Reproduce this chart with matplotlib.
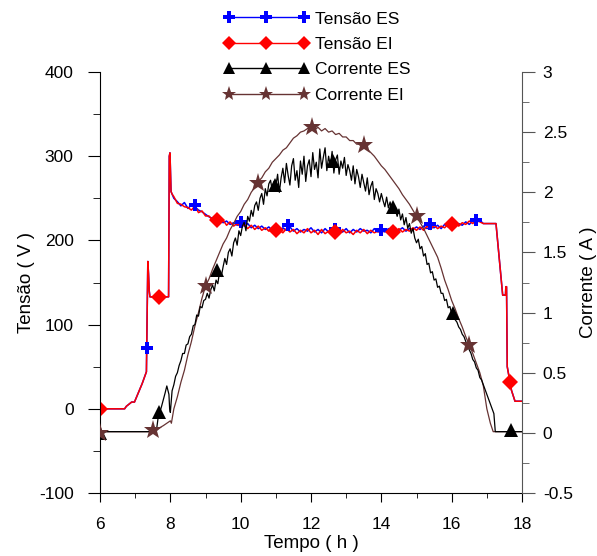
import numpy as np
import matplotlib
matplotlib.use("Agg")
import matplotlib.pyplot as plt
from matplotlib.lines import Line2D

plt.rcParams['font.family'] = ['Liberation Sans', 'DejaVu Sans']
plt.rcParams['axes.unicode_minus'] = False
FS = 12.5

# --- voltage (left axis), hours / volts ---
t_v_start = [6.0, 6.7, 6.75, 6.9, 6.98, 7.05, 7.2, 7.32, 7.36, 7.38, 7.40, 7.42,
             7.95, 7.97, 7.99, 8.02, 8.05]
v_start = [0, 0, 3, 8, 8, 15, 30, 44, 175, 160, 140, 133,
           133, 300, 304, 258, 255]
t_v_mid = np.round(np.arange(8.1, 16.85, 0.1), 2)
v_es_mid = [250, 246, 241, 245, 238, 242, 240, 236, 234, 231,
            228, 226, 223, 225, 221, 223, 219, 221, 218, 220,
            217, 220, 215, 218, 214, 217, 213, 216, 212, 214,
            211, 215, 212, 216, 211, 214, 210, 213, 211, 215,
            210, 213, 209, 214, 210, 212, 208, 213, 210, 214,
            209, 213, 210, 214, 211, 212, 209, 214, 210, 213,
            210, 214, 211, 213, 212, 215, 211, 214, 213, 216,
            213, 217, 214, 216, 215, 218, 214, 219, 216, 218,
            217, 220, 218, 222, 219, 223, 221, 224]
v_ei_mid = [252, 244, 243, 240, 239, 236, 241, 233, 235, 229,
            229, 224, 225, 221, 224, 218, 222, 217, 220, 216,
            219, 214, 218, 213, 217, 212, 215, 211, 214, 210,
            213, 209, 214, 210, 213, 208, 212, 209, 214, 209,
            212, 207, 213, 208, 211, 206, 212, 208, 213, 209,
            211, 207, 212, 209, 213, 208, 212, 209, 211, 208,
            213, 209, 212, 210, 214, 210, 213, 211, 215, 212,
            216, 212, 217, 213, 218, 214, 217, 215, 219, 216,
            220, 217, 221, 219, 223, 220, 224, 222]
t_v_end = [16.9, 17.0, 17.26, 17.45, 17.53, 17.54, 17.56, 17.58, 17.61, 17.7, 17.8, 18.0]
v_end = [220, 220, 220, 135, 135, 145, 145, 50, 43, 22, 9, 9]

# markers on the voltage curves
mk_es_t = [6.0, 7.35, 8.7, 10.0, 11.35, 12.68, 14.0, 15.38, 16.7]
mk_es_v = [0, 72, 242, 222, 218, 213, 212, 219, 224]
mk_ei_t = [6.0, 7.68, 9.32, 11.0, 12.68, 14.34, 16.0, 17.67]
mk_ei_v = [0, 133, 224, 212, 210, 210, 219, 32]

# --- current (right axis), hours / amperes ---
t_ies_start = [6.0, 7.6, 7.65, 7.75, 7.85, 7.9, 7.96, 7.98]
i_es_start = [0.01, 0.01, 0.12, 0.22, 0.33, 0.39, 0.32, 0.2]
t_ies_mid = np.round(np.arange(8.0, 17.19, 0.05), 2)
i_es_mid = [0.17, 0.35, 0.40, 0.47, 0.50, 0.56, 0.60, 0.66, 0.66, 0.73,
            0.74, 0.80, 0.82, 0.89, 0.90, 0.98, 0.97, 1.05, 1.04, 1.10,
            1.11, 1.16, 1.12, 1.19, 1.23, 1.18, 1.27, 1.24, 1.34, 1.30,
            1.38, 1.45, 1.40, 1.50, 1.53, 1.47, 1.58, 1.62, 1.56, 1.68,
            1.64, 1.72, 1.75, 1.68, 1.80, 1.76, 1.85, 1.80, 1.89, 1.92,
            1.85, 1.95, 1.99, 1.90, 2.03, 1.97, 2.07, 2.10, 2.01, 2.09,
            2.05, 2.15, 2.00, 2.12, 2.20, 2.08, 2.24, 2.14, 2.06, 2.22,
            2.28, 2.10, 2.18, 2.04, 2.26, 2.15, 2.30, 2.09, 2.22, 2.27,
            2.13, 2.33, 2.19, 2.25, 2.12, 2.36, 2.20, 2.29, 2.37, 2.18,
            2.30, 2.22, 2.34, 2.16, 2.27, 2.31, 2.15, 2.26, 2.20, 2.29,
            2.14, 2.23, 2.18, 2.10, 2.22, 2.07, 2.19, 2.13, 2.04, 2.15,
            2.08, 2.01, 2.12, 1.98, 2.05, 2.09, 1.94, 2.03, 1.99, 1.92,
            1.99, 1.93, 1.88, 1.96, 1.87, 1.92, 1.83, 1.89, 1.85, 1.80,
            1.86, 1.77, 1.82, 1.73, 1.79, 1.70, 1.74, 1.66, 1.70, 1.62,
            1.58, 1.61, 1.53, 1.55, 1.47, 1.49, 1.40, 1.41, 1.33, 1.34,
            1.27, 1.28, 1.21, 1.22, 1.16, 1.16, 1.10, 1.11, 1.04, 1.05,
            0.99, 0.98, 0.94, 0.92, 0.88, 0.86, 0.82, 0.80, 0.76, 0.73,
            0.69, 0.66, 0.61, 0.59, 0.54, 0.52, 0.46, 0.44, 0.40, 0.36,
            0.32, 0.28, 0.24, 0.20]
t_ies_end = [17.2, 17.24, 18.0]
i_es_end = [0.16, 0.01, 0.01]

t_iei = [6.0, 7.5, 7.8, 8.0, 8.03, 8.1, 8.2, 8.3, 8.4, 8.5, 8.6, 8.7, 8.8, 8.9,
         9.0, 9.1, 9.2, 9.3, 9.4, 9.5, 9.6, 9.7, 9.8, 9.9, 10.0, 10.1, 10.2,
         10.3, 10.4, 10.5, 10.6, 10.7, 10.8, 10.9, 11.0, 11.1, 11.2, 11.3,
         11.4, 11.5, 11.6, 11.7, 11.8, 11.9, 12.0, 12.1, 12.2, 12.3, 12.4,
         12.5, 12.6, 12.7, 12.8, 12.9, 13.0, 13.1, 13.2, 13.3, 13.4, 13.5,
         13.6, 13.7, 13.8, 13.9, 14.0, 14.1, 14.2, 14.3, 14.4, 14.5, 14.6,
         14.7, 14.8, 14.9, 15.0, 15.1, 15.2, 15.3, 15.4, 15.5, 15.6, 15.7,
         15.8, 15.9, 16.0, 16.1, 16.2, 16.3, 16.4, 16.5, 16.6, 16.7, 16.8,
         16.9, 17.0, 17.1, 17.18, 18.0]
i_ei = [0.01, 0.01, 0.06, 0.10, 0.08, 0.20, 0.30, 0.42, 0.52, 0.65, 0.76, 0.89,
        1.00, 1.12, 1.22, 1.28, 1.36, 1.43, 1.50, 1.57, 1.62, 1.69, 1.74,
        1.80, 1.84, 1.90, 1.94, 2.00, 2.04, 2.09, 2.12, 2.17, 2.20, 2.25,
        2.28, 2.31, 2.35, 2.37, 2.41, 2.45, 2.47, 2.50, 2.51, 2.53, 2.54,
        2.52, 2.54, 2.51, 2.53, 2.50, 2.51, 2.48, 2.49, 2.46, 2.46, 2.43,
        2.43, 2.40, 2.40, 2.38, 2.36, 2.33, 2.30, 2.26, 2.22, 2.19, 2.15,
        2.11, 2.07, 2.03, 1.98, 1.94, 1.90, 1.85, 1.80, 1.75, 1.70, 1.64,
        1.58, 1.52, 1.46, 1.37, 1.27, 1.19, 1.10, 1.03, 0.95, 0.88, 0.80,
        0.73, 0.66, 0.58, 0.50, 0.39, 0.20, 0.08, 0.01, 0.01]

mk_ies_t = [6.0, 7.69, 9.33, 10.98, 12.62, 14.33, 16.03, 17.69]
mk_ies_i = [0.0, 0.17, 1.35, 2.06, 2.26, 1.88, 1.0, 0.02]
mk_iei_t = [6.0, 7.5, 9.02, 10.49, 12.02, 13.5, 15.0, 16.49]
mk_iei_i = [0.0, 0.02, 1.22, 2.08, 2.54, 2.39, 1.80, 0.73]

BLUE, RED, BLACK, BROWN = '#0000ff', '#ff0000', '#000000', '#663333'
GREY = '#555555'

fig = plt.figure(figsize=(5.97, 5.56), dpi=100)
ax1 = fig.add_axes([0.1675, 0.1133, 0.7069, 0.7572])
ax2 = ax1.twinx()

t_es = np.concatenate([t_v_start, t_v_mid, t_v_end])
ax1.plot(t_es, np.concatenate([v_start, v_es_mid, v_end]), color=BLUE, lw=1.1)
ax1.plot(t_es, np.concatenate([v_start, v_ei_mid, v_end]), color=RED, lw=1.1)
ax1.plot(mk_es_t, mk_es_v, 'P', color=BLUE, ms=9, mew=0, ls='none')
ax1.plot(mk_ei_t, mk_ei_v, 'D', color=RED, ms=8.5, mew=0, ls='none')

ax2.plot(t_iei, i_ei, color=BROWN, lw=0.9)
ax2.plot(np.concatenate([t_ies_start, t_ies_mid, t_ies_end]),
         np.concatenate([i_es_start, i_es_mid, i_es_end]), color=BLACK, lw=0.9)
ax2.plot(mk_ies_t, mk_ies_i, '^', color=BLACK, ms=10, mew=0, ls='none')
ax2.plot(mk_iei_t, mk_iei_i, '*', color=BROWN, ms=14, mew=0, ls='none')

ax1.set_xlim(6, 18)
ax1.set_ylim(-100, 400)
ax2.set_ylim(-0.5, 3)
ax1.set_xticks(range(6, 19, 2))
ax1.set_xticks(range(7, 18, 2), minor=True)
ax1.set_yticks(range(-100, 401, 100))
ax1.set_yticks(range(-50, 351, 100), minor=True)
ax2.set_yticks([-0.5, 0, 0.5, 1, 1.5, 2, 2.5, 3])
ax2.set_yticklabels(['-0.5', '0', '0.5', '1', '1.5', '2', '2.5', '3'])
ax2.set_yticks(np.arange(-0.25, 3, 0.5), minor=True)

for s in ['top', 'right']:
    ax1.spines[s].set_visible(False)
for s in ['top', 'left', 'bottom']:
    ax2.spines[s].set_visible(False)
ax2.spines['right'].set_color(GREY)

ax1.tick_params(axis='y', which='major', direction='out', length=9, labelsize=FS, pad=10)
ax1.tick_params(axis='y', which='minor', direction='out', length=5)
ax1.tick_params(axis='x', which='major', direction='out', length=6.5, labelsize=FS, pad=11)
ax1.tick_params(axis='x', which='minor', direction='out', length=3.5)
ax2.tick_params(axis='y', which='major', direction='out', length=9, labelsize=FS,
                pad=6, color=GREY)
ax2.tick_params(axis='y', which='minor', direction='out', length=5, color=GREY)

ax1.set_xlabel('Tempo ( h )', fontsize=FS + 1, labelpad=2)
ax1.set_ylabel('Tensão ( V )', fontsize=FS + 1, labelpad=3)
ax2.set_ylabel('Corrente ( A )', fontsize=FS + 1, labelpad=5)

handles = [
    Line2D([], [], color=BLUE, lw=1, marker='P', ms=8, mew=0),
    Line2D([], [], color=RED, lw=1, marker='D', ms=7, mew=0),
    Line2D([], [], color=BLACK, lw=1, marker='^', ms=8, mew=0),
    Line2D([], [], color=BROWN, lw=1, marker='*', ms=11, mew=0),
]
labels = ['Tensão ES', 'Tensão EI', 'Corrente ES', 'Corrente EI']
fig.legend(handles, labels, loc='upper left', bbox_to_anchor=(0.3635, 0.992),
           numpoints=3, handlelength=4.9, handletextpad=0.37, labelspacing=0.59,
           frameon=False, fontsize=FS, borderaxespad=0)

fig.savefig('out.png', dpi=100)
